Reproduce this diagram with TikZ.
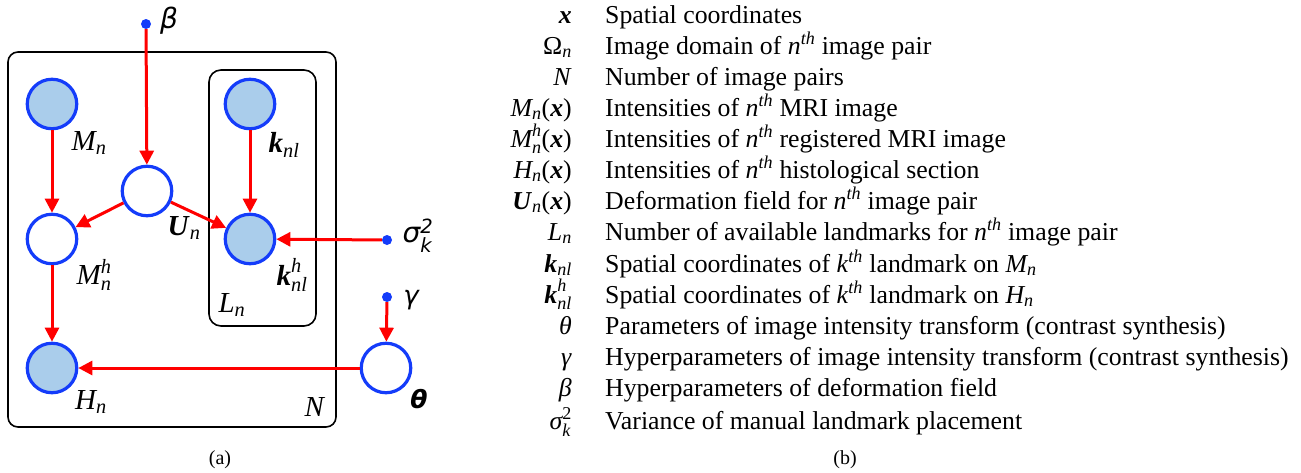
\documentclass[tikz,border=0pt]{standalone}
\usepackage{fontspec}
\usepackage{amsmath}
\setmainfont{Liberation Serif}
\newfontfamily\dvs{DejaVu Sans}
\usetikzlibrary{arrows.meta}
\definecolor{nodeblue}{RGB}{20,60,250}
\definecolor{obsfill}{RGB}{170,205,235}
\definecolor{edgered}{RGB}{255,0,0}
\newcommand\iv[1]{\textit{#1}}
\newcommand\vb[1]{\textbf{\textit{#1}}}
\newcommand\nth{\iv{n}\textsuperscript{\iv{th}}}
\newcommand\kth{\iv{k}\textsuperscript{\iv{th}}}
\begin{document}
\begin{tikzpicture}[x=1pt,y=-1pt,
  obs/.style={circle, draw=nodeblue, line width=3.2pt, fill=obsfill, minimum size=49.5pt, inner sep=0pt},
  lat/.style={obs, fill=white},
  hyper/.style={circle, fill=nodeblue, minimum size=10pt, inner sep=0pt},
  edge/.style={draw=edgered, line width=3pt, -{Triangle[length=14pt,width=14pt]}},
  plate/.style={draw=black, line width=1.6pt},
  lbl/.style={inner sep=0pt, font=\fontsize{29}{33}\selectfont},
  slbl/.style={inner sep=0pt, font=\fontsize{28}{32}\selectfont\dvs},
  sym/.style={anchor=base east, inner sep=0pt, font=\fontsize{25.8}{30}\selectfont},
  desc/.style={anchor=base west, inner sep=0pt, font=\fontsize{25.8}{30}\selectfont},
  captxt/.style={inner sep=0pt, font=\fontsize{20}{24}\selectfont}]
\useasboundingbox (0,0) rectangle (1301,472);
% plates
\draw[plate, rounded corners=10pt] (8,52) rectangle (336,427);
\draw[plate, rounded corners=12pt] (209,70) rectangle (316,326);
% nodes
\node[obs] (M) at (52,104) {};
\node[obs] (K) at (250,104) {};
\node[lat] (U) at (147,191) {};
\node[lat] (Mh) at (52,239) {};
\node[obs] (Kh) at (250,239) {};
\node[obs] (H) at (52,368) {};
\node[lat] (T) at (386,368) {};
\node[hyper] (B) at (146,24) {};
\node[hyper] (S) at (387,240) {};
\node[hyper] (G) at (387,297) {};
% labels
\node[lbl] (lM) at (89,143) {$\iv{M}_{\iv{n}}$};
\node[lbl] (lK) at (284,145) {$\vb{k}_{\iv{nl}}$};
\node[lbl] (lU) at (184,228) {$\vb{U}_{\iv{n}}$};
\node[lbl] (lMh) at (94,275) {$\iv{M}_{\iv{n}}^{\iv{h}}$};
\node[lbl] (lKh) at (292,275) {$\vb{k}_{\iv{nl}}^{\iv{h}}$};
\node[lbl] (lL) at (232,305) {$\iv{L}_{\iv{n}}$};
\node[lbl] (lH) at (91,402) {$\iv{H}_{\iv{n}}$};
\node[lbl] (lN) at (315,407) {\iv{N}};
\node[slbl] (lB) at (169,21) {\itshape β};
\node[slbl] (lS) at (418,236) {\itshape σ$_{\text{\dvs\itshape k}}^{\text{\dvs 2}}$};
\node[slbl, font=\fontsize{26}{30}\selectfont\dvs\itshape] (lG) at (411,300) {γ};
\node[slbl, font=\fontsize{25}{29}\selectfont\dvs\bfseries\itshape] (lT) at (419,399) {θ};
% edges
\draw[edge] (B) -- (U);
\draw[edge] (M) -- (Mh);
\draw[edge] (U) -- (Mh);
\draw[edge] (U) -- (Kh);
\draw[edge] (K) -- (Kh);
\draw[edge] (S) -- (Kh);
\draw[edge] (Mh) -- (H);
\draw[edge] (G) -- (T);
\draw[edge] (T) -- (H);
% table
\node[sym] (s1) at (572,23) {\vb{x}};
\node[desc] (d1) at (605,23) {Spatial coordinates};
\node[sym] (s2) at (572,54) {Ω$_{\iv{n}}$};
\node[desc] (d2) at (605,54) {Image domain of \nth{} image pair};
\node[sym] (s3) at (572,85) {\iv{N}};
\node[desc] (d3) at (605,85) {Number of image pairs};
\node[sym] (s4) at (572,116) {$\iv{M}_{\iv{n}}$(\vb{x})};
\node[desc] (d4) at (605,116) {Intensities of \nth{} MRI image};
\node[sym] (s5) at (572,147) {$\iv{M}_{\iv{n}}^{\iv{h}}$(\vb{x})};
\node[desc] (d5) at (605,147) {Intensities of \nth{} registered MRI image};
\node[sym] (s6) at (572,178) {$\iv{H}_{\iv{n}}$(\vb{x})};
\node[desc] (d6) at (605,178) {Intensities of \nth{} histological section};
\node[sym] (s7) at (572,209) {$\vb{U}_{\iv{n}}$(\vb{x})};
\node[desc] (d7) at (605,209) {Deformation field for \nth{} image pair};
\node[sym] (s8) at (572,240) {$\iv{L}_{\iv{n}}$};
\node[desc] (d8) at (605,240) {Number of available landmarks for \nth{} image pair};
\node[sym] (s9) at (572,272) {$\vb{k}_{\iv{nl}}$};
\node[desc] (d9) at (605,272) {Spatial coordinates of \kth{} landmark on $\iv{M}_{\iv{n}}$};
\node[sym] (s10) at (572,303) {$\vb{k}_{\iv{nl}}^{\iv{h}}$};
\node[desc] (d10) at (605,303) {Spatial coordinates of \kth{} landmark on $\iv{H}_{\iv{n}}$};
\node[sym] (s11) at (572,334) {\iv{θ}};
\node[desc] (d11) at (605,334) {Parameters of image intensity transform (contrast synthesis)};
\node[sym] (s12) at (572,365) {\iv{γ}};
\node[desc] (d12) at (605,365) {Hyperparameters of image intensity transform (contrast synthesis)};
\node[sym] (s13) at (572,396) {\iv{β}};
\node[desc] (d13) at (605,396) {Hyperparameters of deformation field};
\node[sym] (s14) at (572,429) {$\iv{σ}_{\iv{k}}^{\text{2}}$};
\node[desc] (d14) at (605,429) {Variance of manual landmark placement};
% captions
\node[captxt] (ca) at (220,460) {(a)};
\node[captxt] (cb) at (845,460) {(b)};
\end{tikzpicture}
\end{document}
